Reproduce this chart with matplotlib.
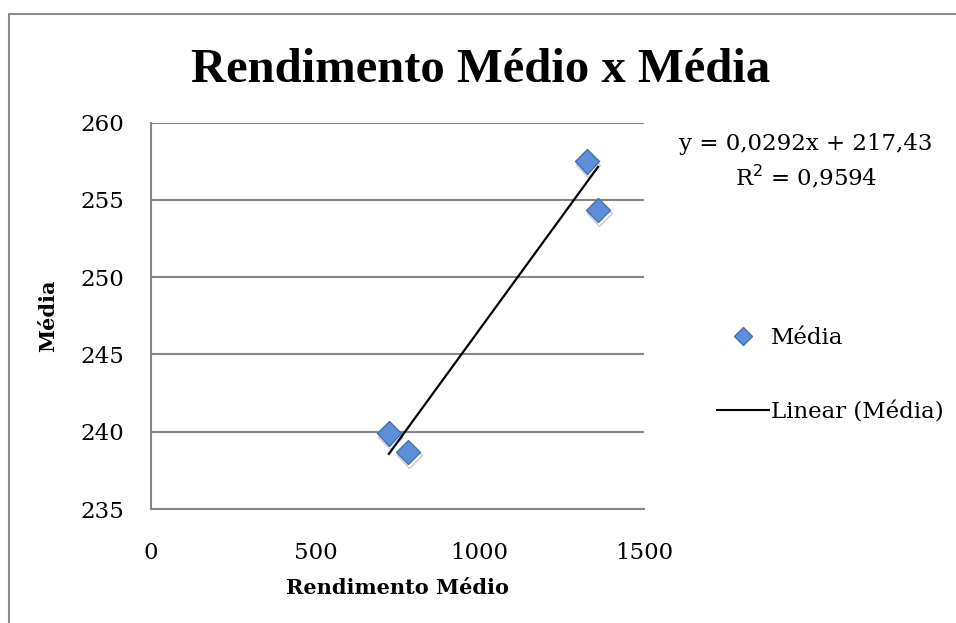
import numpy as np
import matplotlib
matplotlib.use("Agg")
import matplotlib.pyplot as plt
import matplotlib.patheffects as pe
from matplotlib.lines import Line2D
from matplotlib.patches import Rectangle

plt.rcParams["font.family"] = ["DejaVu Serif"]

# dados
rendimento = [724, 782, 1326, 1360]
media = [239.9, 238.7, 257.5, 254.35]
coef_a, coef_b = 0.0292, 217.43
r2 = 0.9594

W, H = 956, 623
fig = plt.figure(figsize=(W / 100, H / 100), dpi=100)
fig.patches.append(Rectangle((9 / W, -0.1), 1.2, 1 - 14 / H + 0.1, transform=fig.transFigure,
                             fill=False, ec="#8c8c8c", lw=1.5))

ax = fig.add_axes([151 / W, 1 - 509 / H, (644 - 151) / W, (509 - 122.7) / H])
ax.set_xlim(0, 1500)
ax.set_ylim(235, 260)
ax.set_xticks([0, 500, 1000, 1500])
ax.set_yticks([235, 240, 245, 250, 255, 260])
ax.yaxis.grid(True, color="#868686", lw=1.5)
ax.set_axisbelow(True)
for s in ["top", "right"]:
    ax.spines[s].set_visible(False)
for s in ["left", "bottom"]:
    ax.spines[s].set_color("#868686")
    ax.spines[s].set_linewidth(1.5)
ax.tick_params(length=0, labelsize=16.5)
ax.tick_params(axis="y", pad=19)
ax.tick_params(axis="x", pad=24)

mk = dict(marker="D", ms=12.5, mfc="#5d8fd8", mec="#4470b4", mew=1.0, ls="none")
ax.plot(rendimento, media, **mk, zorder=3,
        path_effects=[pe.SimpleLineShadow(offset=(1, -2.5), alpha=0.25, shadow_color="#333333"),
                      pe.Normal()])

# linha de tendência
xt = np.array([min(rendimento), max(rendimento)])
ax.plot(xt, coef_a * xt + coef_b, color="black", lw=1.6, zorder=4)

fig.text(481 / W, 1 - 70 / H, "Rendimento Médio x Média", ha="center", va="center",
         fontsize=35, fontweight="bold", family="Liberation Serif")
ax.set_xlabel("Rendimento Médio", fontsize=15, fontweight="bold", labelpad=10)
ax.set_ylabel("Média", fontsize=15, fontweight="bold", labelpad=16)

eq = "y = 0,0292x + 217,43\nR$^2$ = 0,9594"
fig.text(806 / W, 1 - 162 / H, eq, ha="center", va="center", fontsize=16.5, linespacing=1.35)

handles = [Line2D([], [], marker="D", ms=9, mfc="#5d8fd8", mec="#4470b4", ls="none"),
           Line2D([], [], color="black", lw=1.5)]
fig.legend(handles, ["Média", "Linear (Média)"], loc="center left",
           bbox_to_anchor=(717 / W, 1 - 375 / H), frameon=False, fontsize=16.5,
           handlelength=2.25, handletextpad=0.1, labelspacing=2.3, borderpad=0, borderaxespad=0)

fig.savefig("out.png", dpi=100)
